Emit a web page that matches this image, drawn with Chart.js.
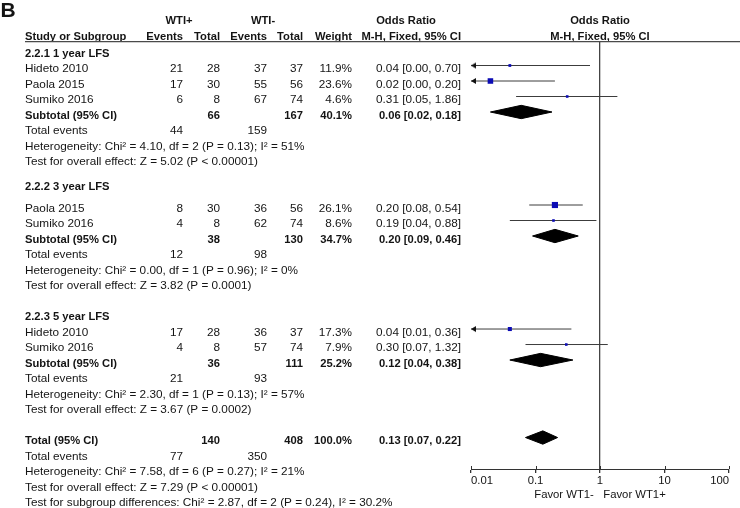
<!DOCTYPE html>
<html>
<head>
<meta charset="utf-8">
<script src="https://cdn.jsdelivr.net/npm/chart.js@4/dist/chart.umd.min.js"></script>
<style>
  html, body { margin: 0; padding: 0; background: #fff; }
  #forest { display: block; }
</style>
</head>
<body>
<canvas id="forest" width="740" height="508"></canvas>
<script>
// ---- data ----
const subgroupNames = ['2.2.1 1 year LFS', '2.2.2 3 year LFS', '2.2.3 5 year LFS']

const studyNames = ['Hideto 2010', 'Paola 2015', 'Sumiko 2016', 'Paola 2015', 'Sumiko 2016', 'Hideto 2010', 'Sumiko 2016']
const studyGroup = [0, 0, 0, 1, 1, 2, 2]
const posEvents = [21, 17, 6, 8, 4, 17, 4]
const posTotal = [28, 30, 8, 30, 8, 28, 8]
const negEvents = [37, 55, 67, 36, 62, 36, 57]
const negTotal = [37, 56, 74, 56, 74, 37, 74]
const studyWeight = [11.9, 23.6, 4.6, 26.1, 8.6, 17.3, 7.9]
const studyOR = [0.04, 0.02, 0.31, 0.20, 0.19, 0.04, 0.30]
const studyLower = [0.00, 0.00, 0.05, 0.08, 0.04, 0.01, 0.07]
const studyUpper = [0.70, 0.20, 1.86, 0.54, 0.88, 0.36, 1.32]

const subPosEvents = [44, 12, 21]
const subNegEvents = [159, 98, 93]
const subPosTotal = [66, 38, 36]
const subNegTotal = [167, 130, 111]
const subWeight = [40.1, 34.7, 25.2]
const subOR = [0.06, 0.20, 0.12]
const subLower = [0.02, 0.09, 0.04]
const subUpper = [0.18, 0.46, 0.38]
const subChi2 = [4.10, 0.00, 2.30]
const subDf = [2, 1, 1]
const subHetP = [0.13, 0.96, 0.13]
const subI2 = [51, 0, 57]
const subZ = [5.02, 3.82, 3.67]
const subZP = ['< 0.00001', '= 0.0001', '= 0.0002']

const totalPos = [77, 140]      // events, total
const totalNeg = [350, 408]
const totalWeight = 100.0
const totalCI = [0.13, 0.07, 0.22] // OR, lower, upper
const totalHet = [7.58, 6, 0.27, 21]   // chi2, df, P, I2
const totalZ = [7.29, '< 0.00001']
const subgroupDiff = [2.87, 2, 0.24, 30.2]

const xTicks = [0.01, 0.1, 1, 10, 100]
const xTickLabels = ['0.01', '0.1', '1', '10', '100']
const axisTitle = 'Favor WT1-   Favor WT1+'

// ---- layout ----
const FONT = '"Liberation Sans", Arial, sans-serif'
const TEXT = '#141414'
const BLUE = '#0b0bb4'
const xMin = 0.01, xMax = 100
const sectionHeaderRow = [0, 8.6, 17]
const sectionFirstRow = [1, 10, 18]
const totalRow = 25
const dh = 0.43 // diamond half height in rows

const studyRow = []
const used = [0, 0, 0]
studyGroup.forEach(g => { studyRow.push(sectionFirstRow[g] + used[g]++) })
const subRow = subgroupNames.map((_, g) => sectionFirstRow[g] + used[g])

const f2 = v => v.toFixed(2)
const orText = (o, l, u) => `${f2(o)} [${f2(l)}, ${f2(u)}]`

// little left arrow, tip at the canvas centre
const arrow = document.createElement('canvas')
arrow.width = 14
arrow.height = 8
const ag = arrow.getContext('2d')
ag.fillStyle = '#111'
ag.beginPath()
ag.moveTo(7, 4)
ag.lineTo(12, 1)
ag.lineTo(12, 7)
ag.closePath()
ag.fill()

const ciSets = studyOR.map((v, i) => {
  const cut = studyLower[i] <= xMin
  return {
    type: 'line',
    order: 2,
    data: [{ x: Math.max(studyLower[i], xMin), y: studyRow[i] }, { x: studyUpper[i], y: studyRow[i] }],
    borderColor: '#3c3c3c',
    borderWidth: 1,
    pointStyle: [cut ? arrow : 'circle', 'circle'],
    pointRadius: [cut ? 3 : 0, 0],
    pointHoverRadius: 0,
    clip: false
  }
})

const diamond = (o, l, u, r) => ({
  type: 'line',
  order: 1,
  data: [{ x: l, y: r }, { x: o, y: r - dh }, { x: u, y: r }, { x: o, y: r + dh }, { x: l, y: r }],
  borderColor: '#000',
  borderWidth: 1,
  backgroundColor: '#000',
  fill: 'shape',
  tension: 0,
  pointRadius: 0,
  clip: false
})

const diamondSets = subOR.map((o, g) => diamond(o, subLower[g], subUpper[g], subRow[g]))
diamondSets.push(diamond(totalCI[0], totalCI[1], totalCI[2], totalRow))

const squareSet = {
  type: 'scatter',
  order: 0,
  data: studyOR.map((v, i) => ({ x: v, y: studyRow[i] })),
  pointStyle: 'rect',
  pointRadius: studyWeight.map(w => Math.max(2.6, w * 0.235) / Math.SQRT2),
  pointBackgroundColor: BLUE,
  pointBorderWidth: 0,
  clip: false
}

// table text drawn against the same y scale
const tablePlugin = {
  id: 'forestTable',
  afterDraw(chart) {
    const c = chart.ctx
    const ys = chart.scales.y
    const xs = chart.scales.x
    const base = r => ys.getPixelForValue(r) + 6.9
    const put = (s, x, r, align, bold, size) => {
      c.font = (bold ? 'bold ' : '') + (size || (bold ? 11.2 : 11.75)) + 'px ' + FONT
      c.textAlign = align
      c.fillText(String(s), x, base(r))
    }
    const col = { name: 25, pe: 183, pt: 220, ne: 267, nt: 303, w: 352, or: 461 }

    c.save()
    c.fillStyle = TEXT
    c.textBaseline = 'alphabetic'

    c.font = 'bold 21px ' + FONT
    c.textAlign = 'left'
    c.fillText('B', 0.5, 16.8)

    put('WTI+', 179, -2.1, 'center', true)
    put('WTI-', 263, -2.1, 'center', true)
    put('Odds Ratio', 406, -2.1, 'center', true)
    put('Odds Ratio', xs.getPixelForValue(1), -2.1, 'center', true)
    put('Study or Subgroup', col.name, -1.1, 'left', true)
    put('Events', col.pe, -1.1, 'right', true)
    put('Total', col.pt, -1.1, 'right', true)
    put('Events', col.ne, -1.1, 'right', true)
    put('Total', col.nt, -1.1, 'right', true)
    put('Weight', col.w, -1.1, 'right', true)
    put('M-H, Fixed, 95% CI', col.or, -1.1, 'right', true)
    put('M-H, Fixed, 95% CI', xs.getPixelForValue(1), -1.1, 'center', true)

    subgroupNames.forEach((name, g) => put(name, col.name, sectionHeaderRow[g], 'left', true))

    studyNames.forEach((name, i) => {
      const r = studyRow[i]
      put(name, col.name, r, 'left')
      put(posEvents[i], col.pe, r, 'right')
      put(posTotal[i], col.pt, r, 'right')
      put(negEvents[i], col.ne, r, 'right')
      put(negTotal[i], col.nt, r, 'right')
      put(studyWeight[i].toFixed(1) + '%', col.w, r, 'right')
      put(orText(studyOR[i], studyLower[i], studyUpper[i]), col.or, r, 'right')
    })

    subgroupNames.forEach((_, g) => {
      const r = subRow[g]
      put('Subtotal (95% CI)', col.name, r, 'left', true)
      put(subPosTotal[g], col.pt, r, 'right', true)
      put(subNegTotal[g], col.nt, r, 'right', true)
      put(subWeight[g].toFixed(1) + '%', col.w, r, 'right', true)
      put(orText(subOR[g], subLower[g], subUpper[g]), col.or, r, 'right', true)
      put('Total events', col.name, r + 1, 'left')
      put(subPosEvents[g], col.pe, r + 1, 'right')
      put(subNegEvents[g], col.ne, r + 1, 'right')
      put(`Heterogeneity: Chi\u00b2 = ${f2(subChi2[g])}, df = ${subDf[g]} (P = ${f2(subHetP[g])}); I\u00b2 = ${subI2[g]}%`, col.name, r + 2, 'left')
      put(`Test for overall effect: Z = ${f2(subZ[g])} (P ${subZP[g]})`, col.name, r + 3, 'left')
    })

    put('Total (95% CI)', col.name, totalRow, 'left', true)
    put(totalPos[1], col.pt, totalRow, 'right', true)
    put(totalNeg[1], col.nt, totalRow, 'right', true)
    put(totalWeight.toFixed(1) + '%', col.w, totalRow, 'right', true)
    put(orText(totalCI[0], totalCI[1], totalCI[2]), col.or, totalRow, 'right', true)
    put('Total events', col.name, totalRow + 1, 'left')
    put(totalPos[0], col.pe, totalRow + 1, 'right')
    put(totalNeg[0], col.ne, totalRow + 1, 'right')
    put(`Heterogeneity: Chi\u00b2 = ${f2(totalHet[0])}, df = ${totalHet[1]} (P = ${f2(totalHet[2])}); I\u00b2 = ${totalHet[3]}%`, col.name, totalRow + 2, 'left')
    put(`Test for overall effect: Z = ${f2(totalZ[0])} (P ${totalZ[1]})`, col.name, totalRow + 3, 'left')
    put(`Test for subgroup differences: Chi\u00b2 = ${f2(subgroupDiff[0])}, df = ${subgroupDiff[1]} (P = ${f2(subgroupDiff[2])}), I\u00b2 = ${subgroupDiff[3].toFixed(1)}%`, col.name, totalRow + 4, 'left')

    // header rule
    c.strokeStyle = '#4a4a4a'
    c.lineWidth = 1.2
    c.beginPath()
    c.moveTo(25, chart.chartArea.top - 0.4)
    c.lineTo(740, chart.chartArea.top - 0.4)
    c.stroke()

    // upper half of the axis ticks
    c.strokeStyle = '#333'
    c.lineWidth = 1
    c.beginPath()
    xTicks.forEach(v => {
      const px = Math.round(xs.getPixelForValue(v)) + 0.5
      c.moveTo(px, chart.chartArea.bottom - 3)
      c.lineTo(px, chart.chartArea.bottom)
    })
    c.stroke()
    c.restore()
  }
}

new Chart(document.getElementById('forest'), {
  type: 'scatter',
  data: { datasets: [squareSet, ...diamondSets, ...ciSets] },
  options: {
    responsive: false,
    animation: false,
    events: [],
    layout: { padding: { left: 471, right: 11, top: 42, bottom: 0 } },
    plugins: {
      legend: { display: false },
      tooltip: { enabled: false }
    },
    scales: {
      x: {
        type: 'logarithmic',
        position: 'bottom',
        min: xMin,
        max: xMax,
        afterBuildTicks: s => { s.ticks = xTicks.map(v => ({ value: v })) },
        afterFit: s => { s.height = 39 },
        border: { display: true, color: '#333', width: 1 },
        grid: {
          drawOnChartArea: true,
          drawTicks: true,
          tickLength: 4,
          lineWidth: 1.3,
          color: c => (c.tick && c.tick.value === 1) ? '#444' : 'rgba(0,0,0,0)',
          tickColor: '#333'
        },
        ticks: {
          align: 'inner',
          padding: 1,
          autoSkip: false,
          maxRotation: 0,
          color: TEXT,
          font: { family: FONT, size: 11.3 },
          callback: (v, i) => xTickLabels[i]
        },
        title: {
          display: true,
          text: axisTitle,
          color: TEXT,
          font: { family: FONT, size: 11.3 },
          padding: { top: 0, bottom: 6 }
        }
      },
      y: {
        type: 'linear',
        display: false,
        reverse: true,
        min: -0.516,
        max: 27.03
      }
    }
  },
  plugins: [tablePlugin]
})
</script>
</body>
</html>
